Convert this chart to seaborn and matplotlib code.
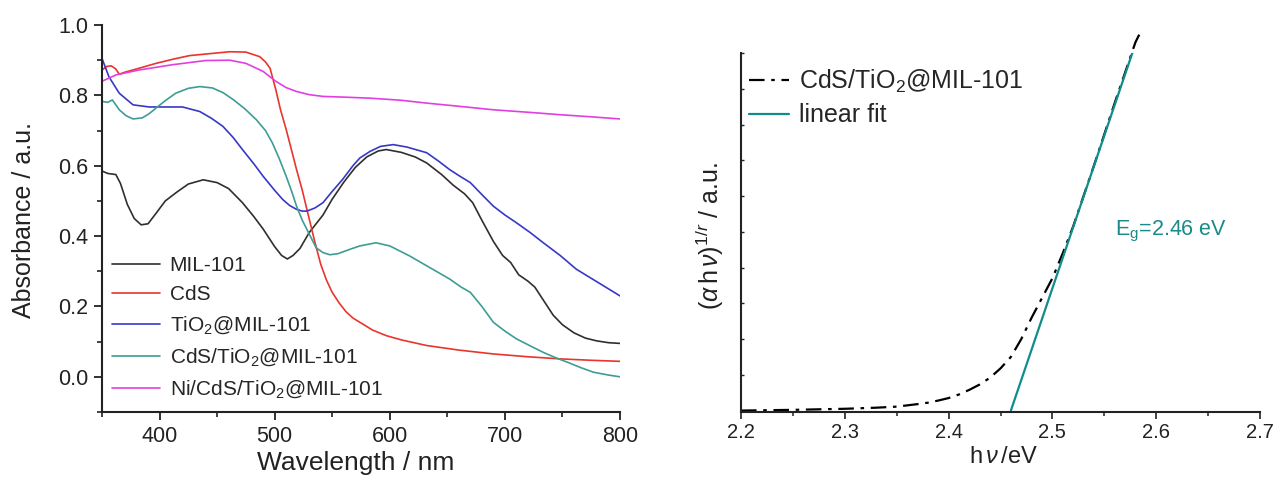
import numpy as np
import pandas as pd
import matplotlib
matplotlib.use("Agg")
import matplotlib.pyplot as plt
import seaborn as sns
from matplotlib.ticker import MultipleLocator, NullFormatter

sns.set_theme(style="white")
plt.rcParams["font.family"] = ["Liberation Sans", "DejaVu Sans"]
plt.rcParams["mathtext.fontset"] = "custom"
plt.rcParams["mathtext.rm"] = "Liberation Sans"
plt.rcParams["mathtext.it"] = "Liberation Sans:italic"
plt.rcParams["mathtext.bf"] = "Liberation Sans:bold"

# ---------------- data: left panel (UV-vis absorbance) ----------------
mil_wl = [350, 355, 362, 366, 372, 378, 384, 390, 397, 405, 415, 425, 438, 450, 460,
          472, 482, 490, 500, 506, 511, 516, 522, 530, 542, 550, 560, 570, 580, 590,
          597, 610, 622, 632, 645, 655, 665, 672, 680, 690, 698, 705, 712, 720, 726,
          735, 742, 750, 760, 770, 780, 790, 800]
mil_abs = [0.585, 0.578, 0.575, 0.55, 0.49, 0.45, 0.432, 0.435, 0.465, 0.50, 0.525, 0.548,
           0.56, 0.552, 0.535, 0.495, 0.455, 0.42, 0.37, 0.345, 0.335, 0.345, 0.365, 0.41,
           0.46, 0.505, 0.553, 0.595, 0.625, 0.642, 0.646, 0.638, 0.625, 0.608, 0.575,
           0.545, 0.52, 0.495, 0.445, 0.385, 0.345, 0.325, 0.29, 0.272, 0.255, 0.21,
           0.175, 0.148, 0.125, 0.11, 0.102, 0.097, 0.095]

cds_wl = [350, 354, 358, 362, 365, 370, 380, 397, 412, 426, 445, 461, 475, 487, 492,
          496, 501, 505, 510, 515, 519, 524, 528, 535, 540, 545, 550, 556, 562, 568,
          574, 585, 597, 610, 632, 660, 690, 720, 748, 775, 800]
cds_abs = [0.872, 0.882, 0.884, 0.875, 0.86, 0.866, 0.875, 0.891, 0.903, 0.913, 0.919,
           0.924, 0.923, 0.91, 0.895, 0.877, 0.816, 0.76, 0.703, 0.64, 0.589, 0.53,
           0.476, 0.382, 0.32, 0.275, 0.24, 0.21, 0.185, 0.167, 0.155, 0.133, 0.117,
           0.105, 0.089, 0.076, 0.065, 0.057, 0.051, 0.047, 0.044]

tio_wl = [350, 356, 365, 377, 391, 405, 420, 435, 445, 455, 464, 472, 482, 490, 500,
          507, 513, 519, 524, 528, 535, 542, 550, 559, 568, 574, 583, 592, 603, 615,
          632, 642, 652, 660, 670, 680, 690, 700, 710, 722, 733, 748, 762, 780, 800]
tio_abs = [0.905, 0.853, 0.806, 0.773, 0.767, 0.767, 0.767, 0.754, 0.735, 0.712, 0.68,
           0.646, 0.605, 0.57, 0.53, 0.504, 0.487, 0.476, 0.471, 0.471, 0.48, 0.495,
           0.527, 0.561, 0.6, 0.622, 0.641, 0.655, 0.66, 0.653, 0.637, 0.614, 0.589,
           0.572, 0.552, 0.518, 0.485, 0.46, 0.438, 0.41, 0.382, 0.345, 0.306, 0.27,
           0.23]

cdt_wl = [350, 355, 359, 365, 371, 377, 385, 391, 397, 405, 414, 425, 435, 446, 455,
          464, 474, 484, 492, 498, 504, 510, 515, 519, 524, 528, 536, 542, 548, 555,
          565, 574, 588, 600, 617, 635, 652, 662, 670, 680, 690, 700, 710, 722, 733,
          745, 754, 766, 777, 790, 800]
cdt_abs = [0.783, 0.78, 0.787, 0.759, 0.742, 0.733, 0.736, 0.748, 0.764, 0.785, 0.806,
           0.82, 0.825, 0.821, 0.808, 0.788, 0.762, 0.731, 0.70, 0.665, 0.62, 0.57,
           0.525, 0.485, 0.445, 0.419, 0.367, 0.353, 0.347, 0.35, 0.362, 0.372, 0.381,
           0.372, 0.344, 0.31, 0.278, 0.255, 0.24, 0.2, 0.155, 0.13, 0.108, 0.088,
           0.07, 0.053, 0.042, 0.026, 0.013, 0.005, 0.0]

ni_wl = [350, 362, 382, 411, 440, 461, 475, 490, 501, 510, 519, 530, 542, 560, 583,
         610, 632, 660, 690, 720, 748, 775, 800]
ni_abs = [0.84, 0.858, 0.872, 0.887, 0.899, 0.90, 0.891, 0.868, 0.84, 0.822, 0.811,
          0.802, 0.797, 0.795, 0.792, 0.786, 0.778, 0.769, 0.759, 0.752, 0.745, 0.739,
          0.733]

series_names = ["MIL-101", "CdS", "TiO$_2$@MIL-101", "CdS/TiO$_2$@MIL-101",
                "Ni/CdS/TiO$_2$@MIL-101"]
series_colors = ["#2f2f2f", "#e8352d", "#3838c8", "#3d9d95", "#e23fe2"]
series_x = [mil_wl, cds_wl, tio_wl, cdt_wl, ni_wl]
series_y = [mil_abs, cds_abs, tio_abs, cdt_abs, ni_abs]

# ---------------- data: right panel (Tauc plot) ----------------
tauc_hv = [2.20, 2.25, 2.30, 2.33, 2.35, 2.37, 2.38, 2.39, 2.40, 2.41, 2.42, 2.43,
           2.44, 2.45, 2.46, 2.47, 2.48, 2.49, 2.50, 2.51, 2.52, 2.54, 2.56, 2.58,
           2.586]
tauc_y = [0.0, 0.002, 0.005, 0.008, 0.011, 0.018, 0.022, 0.028, 0.035, 0.045, 0.058,
          0.073, 0.092, 0.118, 0.15, 0.2, 0.26, 0.315, 0.37, 0.44, 0.515, 0.685,
          0.86, 1.03, 1.065]
fit_hv = [2.46, 2.577]
fit_y = [0.0, 1.0]

# ---------------- figure ----------------
fig = plt.figure(figsize=(12.74, 4.9), dpi=100)
ax1 = fig.add_axes([102 / 1274, 78 / 490, 518 / 1274, 387 / 490])
ax2 = fig.add_axes([741 / 1274, 78 / 490, 519 / 1274, 359 / 490])

frames = []
for name, xs, ys in zip(series_names, series_x, series_y):
    frames.append(pd.DataFrame({"wl": xs, "A": ys, "sample": name}))
df1 = pd.concat(frames, ignore_index=True)

for name, col in zip(series_names, series_colors):
    sns.lineplot(data=df1[df1["sample"] == name], x="wl", y="A", color=col,
                 linewidth=1.2, label=name, estimator=None, ax=ax1)

ax1.set_xlim(350, 800)
ax1.set_ylim(-0.1, 1.0)
ax1.xaxis.set_major_locator(MultipleLocator(100))
ax1.xaxis.set_minor_locator(MultipleLocator(50))
ax1.yaxis.set_major_locator(MultipleLocator(0.2))
ax1.yaxis.set_minor_locator(MultipleLocator(0.1))
ax1.set_yticks([0.0, 0.2, 0.4, 0.6, 0.8, 1.0])
ax1.set_yticklabels(["0.0", "0.2", "0.4", "0.6", "0.8", "1.0"])
ax1.tick_params(axis="both", which="major", direction="out", length=6, width=1.3,
                labelsize=15.5, color="#222222", labelcolor="#222222", pad=4,
                bottom=True, left=True)
ax1.tick_params(axis="both", which="minor", direction="out", length=3.5, width=1.2,
                color="#222222", bottom=True, left=True)
for s in ["top", "right"]:
    ax1.spines[s].set_visible(False)
for s in ["left", "bottom"]:
    ax1.spines[s].set_linewidth(1.5)
    ax1.spines[s].set_color("#222222")
ax1.set_xlabel("Wavelength / nm", fontsize=19, color="#222222")
ax1.set_ylabel("Absorbance / a.u.", fontsize=18, color="#222222")
ax1.xaxis.set_label_coords(0.49, -0.10)
ax1.yaxis.set_label_coords(-0.128, 0.496)
ax1.legend(loc="lower left", bbox_to_anchor=(0.02, 0.03), frameon=False, fontsize=15,
           handlelength=2.3, handletextpad=0.45, labelspacing=0.5, borderpad=0,
           borderaxespad=0)

# right panel
df_curve = pd.DataFrame({"hv": tauc_hv, "y": tauc_y})
df_fit = pd.DataFrame({"hv": fit_hv, "y": fit_y})
sns.lineplot(data=df_curve, x="hv", y="y", color="black", linewidth=1.6,
             linestyle=(0, (7, 3, 1.6, 3)), label="CdS/TiO$_2$@MIL-101",
             estimator=None, ax=ax2)
ax2.lines[-1].set_clip_on(False)
sns.lineplot(data=df_fit, x="hv", y="y", color="#118c8c", linewidth=1.6,
             label="linear fit", estimator=None, ax=ax2)

ax2.set_xlim(2.2, 2.7)
ax2.set_ylim(-0.004, 1.0)
ax2.xaxis.set_major_locator(MultipleLocator(0.1))
ax2.xaxis.set_minor_locator(MultipleLocator(0.05))
ax2.yaxis.set_major_locator(MultipleLocator(0.1))
ax2.yaxis.set_major_formatter(NullFormatter())
ax2.tick_params(axis="x", which="major", direction="out", length=5, width=1.2,
                labelsize=14.5, color="#222222", labelcolor="#222222", pad=3, bottom=True)
ax2.tick_params(axis="x", which="minor", direction="out", length=3, width=1.1,
                color="#222222", bottom=True)
ax2.tick_params(axis="y", which="major", direction="in", length=2.5, width=1.0,
                color="#222222", left=True)
for s in ["top", "right"]:
    ax2.spines[s].set_visible(False)
for s in ["left", "bottom"]:
    ax2.spines[s].set_linewidth(1.5)
    ax2.spines[s].set_color("#222222")
ax2.set_xlabel(r"h$\,\nu\,$/eV", fontsize=17, color="#222222")
ax2.set_ylabel(r"$(\alpha\,\mathrm{h}\,\nu)^{1/r}$ / a.u.", fontsize=18, color="#222222")
ax2.xaxis.set_label_coords(0.506, -0.095)
ax2.yaxis.set_label_coords(-0.028, 0.49)
ax2.legend(loc="upper left", bbox_to_anchor=(0.015, 0.96), frameon=False, fontsize=18,
           handlelength=1.6, handletextpad=0.4, labelspacing=0.35, borderpad=0,
           borderaxespad=0)
ax2.text(2.56, 0.50, r"E$_\mathrm{g}$=2.46 eV", color="#1a8a8a", fontsize=15.5,
         ha="left", va="center")

fig.savefig("out.png", dpi=100)
